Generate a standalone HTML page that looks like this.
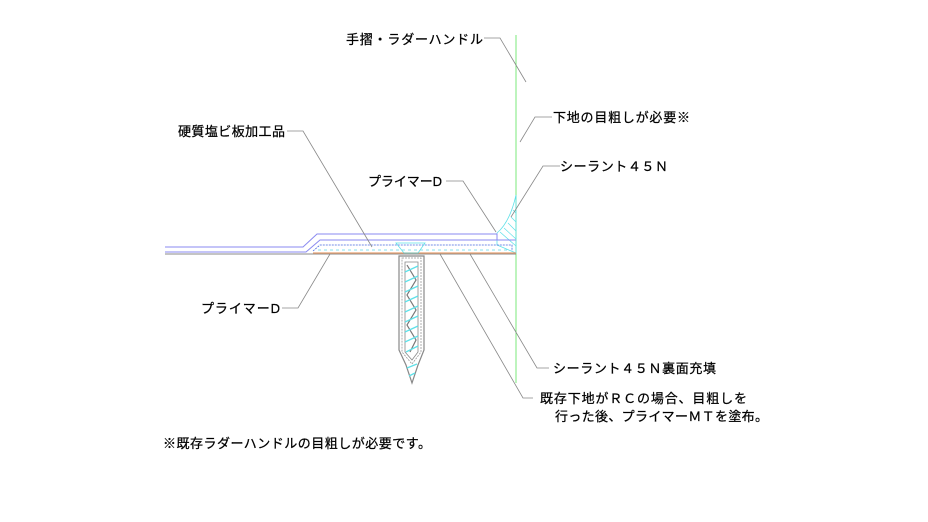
<!DOCTYPE html>
<html><head><meta charset="utf-8"><style>
html,body{margin:0;padding:0;background:#fff;width:928px;height:522px;overflow:hidden}
svg text{font-family:"Liberation Sans","Noto Sans CJK JP",sans-serif;font-size:13px;fill:#000;stroke:#000;stroke-width:0.25}
</style></head><body>
<svg width="928" height="522" viewBox="0 0 928 522" xmlns="http://www.w3.org/2000/svg">
<line x1="516" y1="35" x2="516" y2="383" stroke="#7be87b" stroke-width="1"/>
<path d="M497,233 Q510,222 516,195 L516,253 L497,245 Z" fill="none" stroke="#5fe0e8" stroke-width="0.8"/>
<g stroke="#5fe0e8" stroke-width="0.7">
<line x1="500" y1="232" x2="516" y2="246"/><line x1="504" y1="228" x2="516" y2="239"/>
<line x1="508" y1="223" x2="516" y2="231"/><line x1="511" y1="217" x2="516" y2="222"/>
<line x1="513" y1="210" x2="516" y2="213"/>
</g>
<g fill="none" stroke="#8a8af0" stroke-width="1">
<path d="M165,247 L303,247 L317,234 L497,234 L497,240 L516,240"/>
<path d="M165,252 L306,252 L320,240 L497,240"/>
</g>
<path d="M165,254 L516,254" stroke="#888" stroke-width="1"/>
<path d="M313,253 L516,253" stroke="#e8a070" stroke-width="1.2"/>
<path d="M313,251 L320,245 L512,245 L512,251" fill="none" stroke="#4a6ae0" stroke-width="0.8" stroke-dasharray="2 1"/>
<path d="M318,250 L510,250" stroke="#60d8e8" stroke-width="0.8" stroke-dasharray="3 3"/>
<path d="M396,243 L425,243 L418,253 L404,253 Z" fill="none" stroke="#5fe0e8" stroke-width="0.8"/>
<path d="M399,256 L424,256 L424,350 L418,365 L412,383 L406,365 L399,350 Z" fill="none" stroke="#888" stroke-width="1.2"/>
<path d="M402,258 L421,258 L421,352 L412,364 L402,352 Z" fill="none" stroke="#999" stroke-width="0.8" stroke-dasharray="2 1"/>
<path d="M405,262 L418,262 L418,352 L412,360 L405,352 Z" fill="none" stroke="#888" stroke-width="0.8"/>
<path d="M407,265 L416,280 L407,295 L416,310 L407,325 L416,340 L410,352" fill="none" stroke="#777" stroke-width="1.2"/>
<g stroke="#5fe0e8" stroke-width="1.3">
<line x1="405" y1="272" x2="418" y2="266"/><line x1="405" y1="282" x2="418" y2="276"/>
<line x1="405" y1="292" x2="418" y2="286"/><line x1="405" y1="302" x2="418" y2="296"/>
<line x1="405" y1="312" x2="418" y2="306"/><line x1="405" y1="322" x2="418" y2="316"/>
<line x1="405" y1="332" x2="418" y2="326"/><line x1="405" y1="342" x2="418" y2="336"/>
<line x1="406" y1="352" x2="418" y2="346"/><line x1="407" y1="368" x2="417" y2="364"/>
<line x1="409" y1="376" x2="415" y2="373"/>
</g>
<g fill="none" stroke="#888" stroke-width="0.8">
<polyline points="484,38 500,38 526,82"/>
<polyline points="552,117 535,117 520,142"/>
<polyline points="560,166 543,166 511,217"/>
<polyline points="287,131 303,131 372,247"/>
<polyline points="446,181 463,181 496,232"/>
<polyline points="282,308 298,308 330,254"/>
<polyline points="549,368 537,368 470,254"/>
<polyline points="533,398 523,398 440,254"/>
</g>
<text x="346" y="44" textLength="137">手摺・ラダーハンドル</text>
<text x="553" y="122" textLength="137">下地の目粗しが必要※</text>
<text x="560" y="171" textLength="108">シーラント４５Ｎ</text>
<text x="178" y="136" textLength="107">硬質塩ビ板加工品</text>
<text x="368" y="186" textLength="74">プライマーD</text>
<text x="201" y="313" textLength="79">プライマーD</text>
<text x="553" y="373" textLength="163">シーラント４５Ｎ裏面充填</text>
<text x="540" y="403" textLength="207">既存下地がＲＣの場合、目粗しを</text>
<text x="555" y="421" textLength="213">行った後、プライマーＭＴを塗布。</text>
<text x="163" y="448" textLength="268">※既存ラダーハンドルの目粗しが必要です。</text>
</svg>
</body></html>
